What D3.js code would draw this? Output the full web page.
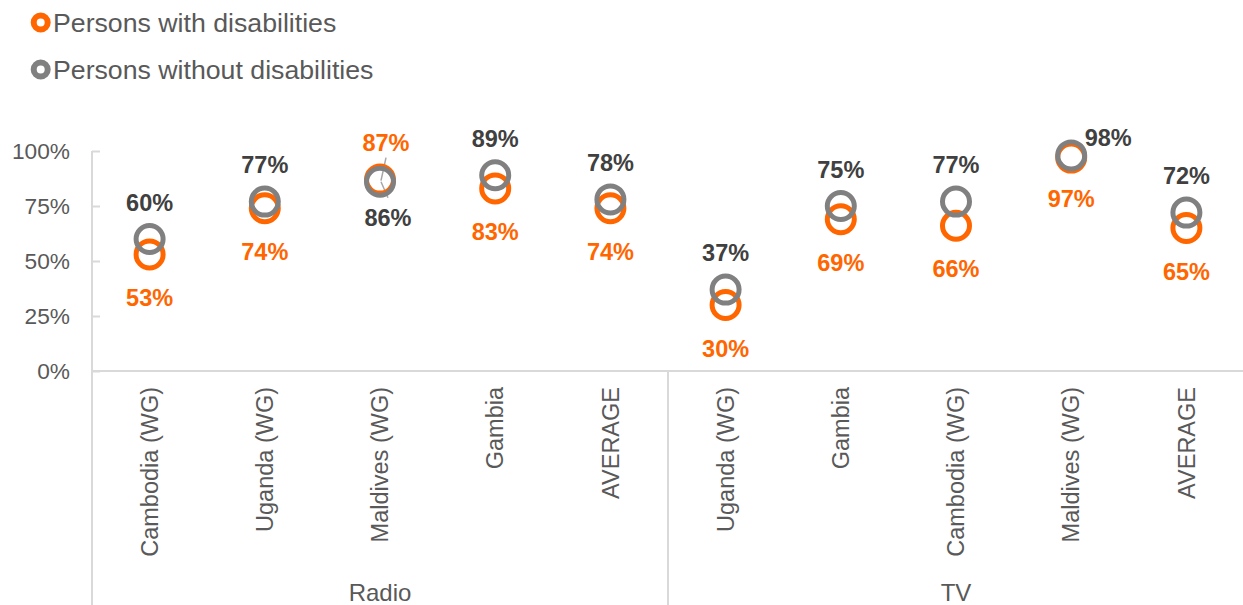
<!DOCTYPE html>
<html><head><meta charset="utf-8">
<script src="https://cdn.jsdelivr.net/npm/d3@7"></script>
<style>
body{margin:0;background:#fff;}
svg{display:block;font-family:"Liberation Sans",Arial,sans-serif;}
</style></head>
<body><svg id="chart" width="1243" height="605"></svg>
<script>
const groups = ["Radio", "TV"];
const categories = ["Cambodia (WG)", "Uganda (WG)", "Maldives (WG)", "Gambia", "AVERAGE",
                    "Uganda (WG)", "Gambia", "Cambodia (WG)", "Maldives (WG)", "AVERAGE"];
const categoryGroup = ["Radio","Radio","Radio","Radio","Radio","TV","TV","TV","TV","TV"];
const withDisab = [0.53, 0.74, 0.87, 0.83, 0.74, 0.30, 0.69, 0.66, 0.97, 0.65];
const withoutDisab = [0.60, 0.77, 0.86, 0.89, 0.78, 0.37, 0.75, 0.77, 0.98, 0.72];
const yTicks = [0, 0.25, 0.5, 0.75, 1.0];
const seriesNames = ["Persons with disabilities", "Persons without disabilities"];

const ORANGE = "#FF6600", GREY = "#808080", AXIS = "#D9D9D9";
const svg = d3.select("#chart");
const left = 92, right = 1244, y0 = 371, y1 = 151, bottom = 605;

const idx = d3.range(categories.length);
const x = d3.scaleBand().domain(idx).range([left, right]).padding(0);
const y = d3.scaleLinear().domain([0, 1]).range([y0, y1]);
const cx = i => x(i) + x.bandwidth() / 2;

// Legend
const leg = svg.append("g");
seriesNames.forEach((n, i) => {
  const ly = 22.5 + i * 47;
  leg.append("circle").attr("cx", 40.7).attr("cy", ly).attr("r", 7)
    .attr("fill", "#fff").attr("stroke", i === 0 ? ORANGE : GREY).attr("stroke-width", 6);
  leg.append("text").attr("x", 53).attr("y", ly).attr("dy", "0.36em")
    .attr("font-size", 26.7).attr("fill", "#595959").text(n);
});

// Y axis
const yAxis = d3.axisLeft(y).tickValues(yTicks).tickFormat(d3.format(".0%")).tickSize(0).tickPadding(0);
const ya = svg.append("g").attr("transform", `translate(${left},0)`).call(yAxis);
ya.select(".domain").remove();
ya.selectAll("text").attr("x", -22).attr("font-size", 22.7).attr("fill", "#595959")
  .attr("font-family", "Liberation Sans, Arial, sans-serif");
ya.selectAll(".tick").append("line").attr("x1", 0).attr("x2", 8).attr("stroke", AXIS).attr("stroke-width", 2);
// vertical axis line
svg.append("line").attr("x1", left).attr("x2", left).attr("y1", y1).attr("y2", bottom)
  .attr("stroke", AXIS).attr("stroke-width", 2);
// horizontal axis
svg.append("line").attr("x1", left).attr("x2", 1243).attr("y1", y0).attr("y2", y0)
  .attr("stroke", AXIS).attr("stroke-width", 2);
// group separator
const sepX = x(5);
svg.append("line").attr("x1", sepX).attr("x2", sepX).attr("y1", y0).attr("y2", bottom)
  .attr("stroke", AXIS).attr("stroke-width", 2);

// Category labels
idx.forEach(i => {
  svg.append("text").attr("transform", `translate(${cx(i)},387) rotate(-90)`)
    .attr("text-anchor", "end").attr("dy", "0.35em")
    .attr("font-size", 23.5).attr("fill", "#595959").text(categories[i]);
});
// Group labels
groups.forEach(g => {
  const members = idx.filter(i => categoryGroup[i] === g);
  const gx = (x(members[0]) + x(members[members.length - 1]) + x.bandwidth()) / 2;
  svg.append("text").attr("x", gx).attr("y", 592).attr("dy", "0.36em").attr("text-anchor", "middle")
    .attr("font-size", 24).attr("fill", "#595959").text(g);
});

// Leader lines (Radio Maldives)
const mi = 2;
const lc = "#A6A6A6";
svg.append("line").attr("x1", cx(mi) + 6).attr("y1", y(withDisab[mi]) - 22)
  .attr("x2", cx(mi) + 1).attr("y2", y(withDisab[mi]) + 1).attr("stroke", lc).attr("stroke-width", 1.5);
svg.append("line").attr("x1", cx(mi) + 1).attr("y1", y(withoutDisab[mi]))
  .attr("x2", cx(mi) + 8).attr("y2", y(withoutDisab[mi]) + 16).attr("stroke", lc).attr("stroke-width", 1.5);

// Markers
const pts = svg.append("g");
pts.selectAll(".o").data(idx).join("circle").attr("cx", cx).attr("cy", i => y(withDisab[i]))
  .attr("r", 13.5).attr("fill", "none").attr("stroke", ORANGE).attr("stroke-width", 5);
pts.selectAll(".g").data(idx).join("circle").attr("cx", cx).attr("cy", i => y(withoutDisab[i]))
  .attr("r", 13.5).attr("fill", "none").attr("stroke", GREY).attr("stroke-width", 5);

// Data labels
const fmt = d3.format(".0%");
const lab = svg.append("g").attr("font-size", 23.5).attr("font-weight", "bold").attr("text-anchor", "middle");
idx.forEach(i => {
  let oDx = 0, oDy = 51.5, gDx = 0, gDy = -28.5;
  if (categoryGroup[i] === "Radio" && categories[i] === "Maldives (WG)") { oDx = 6; oDy = -29; gDx = 8; gDy = 44; }
  if (categoryGroup[i] === "TV" && categories[i] === "Maldives (WG)") { oDy = 49; gDx = 37; gDy = -9; }
  lab.append("text").attr("x", cx(i) + oDx).attr("y", y(withDisab[i]) + oDy)
    .attr("fill", ORANGE).text(fmt(withDisab[i]));
  lab.append("text").attr("x", cx(i) + gDx).attr("y", y(withoutDisab[i]) + gDy)
    .attr("fill", "#404040").text(fmt(withoutDisab[i]));
});
</script></body></html>
